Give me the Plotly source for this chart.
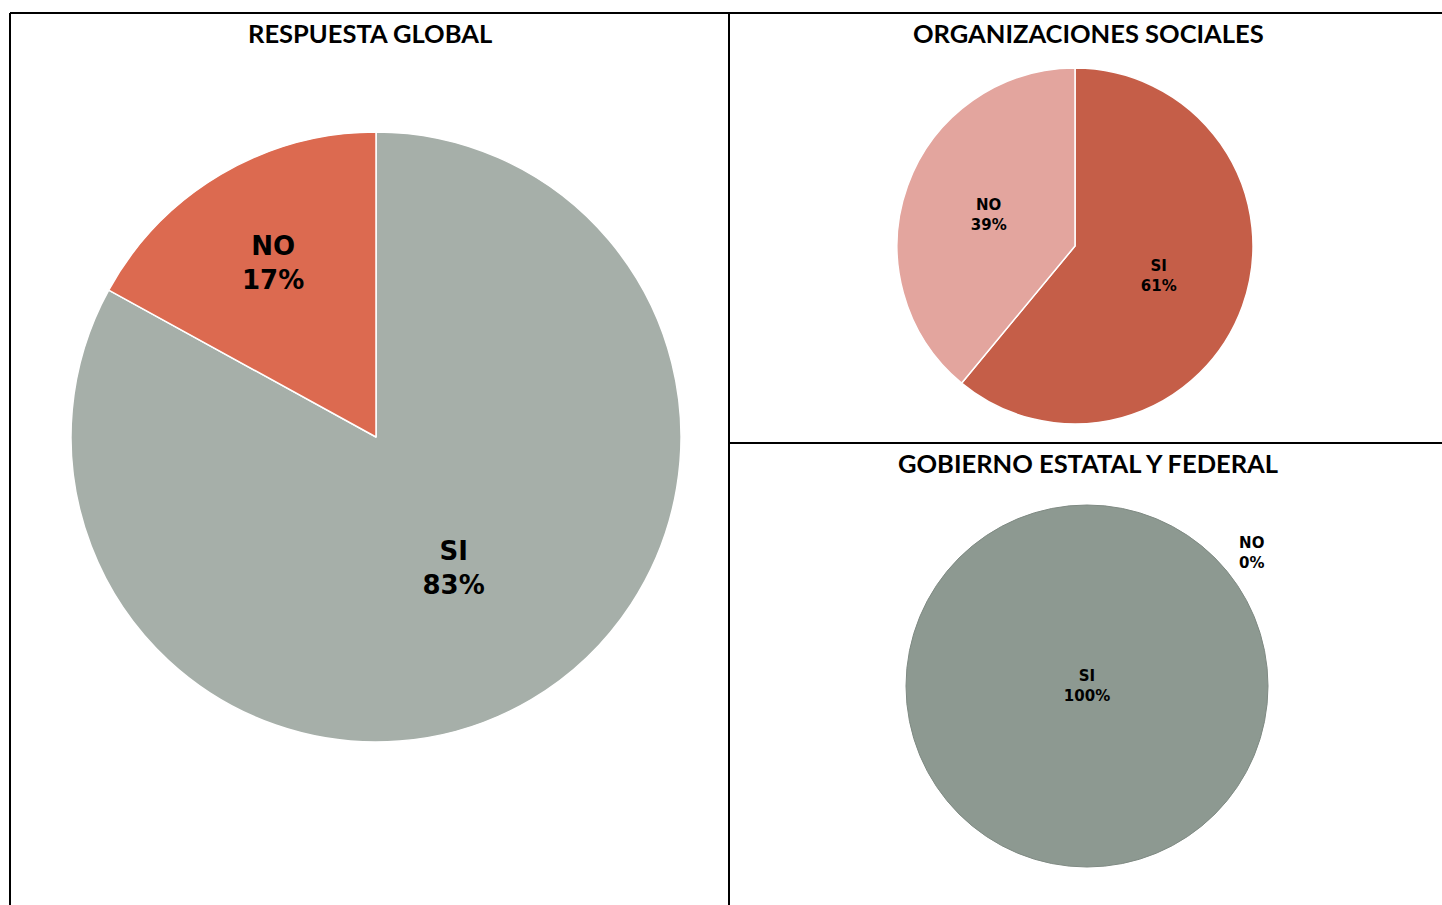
import plotly.graph_objects as go

labels = ["SI", "NO"]
global_vals = [83, 17]
org_vals = [61, 39]
gov_vals = [100, 0]

titles = ["RESPUESTA GLOBAL", "ORGANIZACIONES SOCIALES", "GOBIERNO ESTATAL Y FEDERAL"]

W, H = 1442, 905

def px(x):
    return x / W

def py(y):
    return 1 - y / H

LABEL_FONT = "DejaVu Sans"
TITLE_FONT = "Lato"

fig = go.Figure()

fig.add_trace(go.Pie(
    labels=labels, values=global_vals, sort=False, direction="clockwise", rotation=0,
    marker=dict(colors=["#A6AFA9", "#DC6A50"], line=dict(color="white", width=1.5)),
    texttemplate="<b>%{label}<br>%{value}%</b>", textposition="inside",
    insidetextorientation="horizontal",
    textfont=dict(family=LABEL_FONT, size=26, color="black"),
    domain=dict(x=[px(71), px(681)], y=[py(742), py(132)]),
    showlegend=False, hoverinfo="label+percent",
))

fig.add_trace(go.Pie(
    labels=labels, values=org_vals, sort=False, direction="clockwise", rotation=0,
    marker=dict(colors=["#C55E48", "#E3A59E"], line=dict(color="white", width=1.5)),
    texttemplate="<b>%{label}<br>%{value}%</b>", textposition="inside",
    insidetextorientation="horizontal",
    textfont=dict(family=LABEL_FONT, size=15, color="black"),
    domain=dict(x=[px(897), px(1253)], y=[py(424), py(68)]),
    showlegend=False, hoverinfo="label+percent",
))

fig.add_trace(go.Pie(
    labels=labels, values=gov_vals, sort=False, direction="clockwise", rotation=0,
    marker=dict(colors=["#8D9991", "#B8C2BA"], line=dict(color="#7F8A83", width=[1, 0])),
    texttemplate="<b>%{label}<br>%{value}%</b>", textposition="inside",
    insidetextorientation="horizontal",
    textfont=dict(family=LABEL_FONT, size=15, color="black"),
    domain=dict(x=[px(906), px(1268)], y=[py(867), py(505)]),
    showlegend=False, hoverinfo="label+percent",
))

# label of the zero-value slice (plotly does not draw zero slices)
fig.add_annotation(
    x=px(1251), y=py(553), xref="paper", yref="paper", showarrow=False,
    xanchor="center", yanchor="middle",
    text=f"<b>{labels[1]}<br>{gov_vals[1]}%</b>",
    font=dict(family=LABEL_FONT, size=15, color="black"),
)

title_pos = [(370, 33), (1088, 33), (1088, 463)]
for t, (x, y) in zip(titles, title_pos):
    fig.add_annotation(
        x=px(x), y=py(y), xref="paper", yref="paper", showarrow=False,
        text=f"<b>{t}</b>", font=dict(family=TITLE_FONT, size=25.5, color="black"),
        xanchor="center", yanchor="middle",
    )

# table borders
line = dict(color="black", width=2)
for x0, y0, x1, y1 in [(10, 13, 1442, 13), (10, 13, 10, 905), (729, 13, 729, 905), (729, 443, 1442, 443)]:
    fig.add_shape(type="line", xref="paper", yref="paper",
                  x0=px(x0), y0=py(y0), x1=px(x1), y1=py(y1), line=line)

fig.update_layout(
    width=W, height=H, margin=dict(l=0, r=0, t=0, b=0),
    paper_bgcolor="white", plot_bgcolor="white",
)

fig.write_html(
    "out.html",
    config={"displayModeBar": False},
    post_script="document.body.style.margin='0';document.body.style.overflow='hidden';",
)
